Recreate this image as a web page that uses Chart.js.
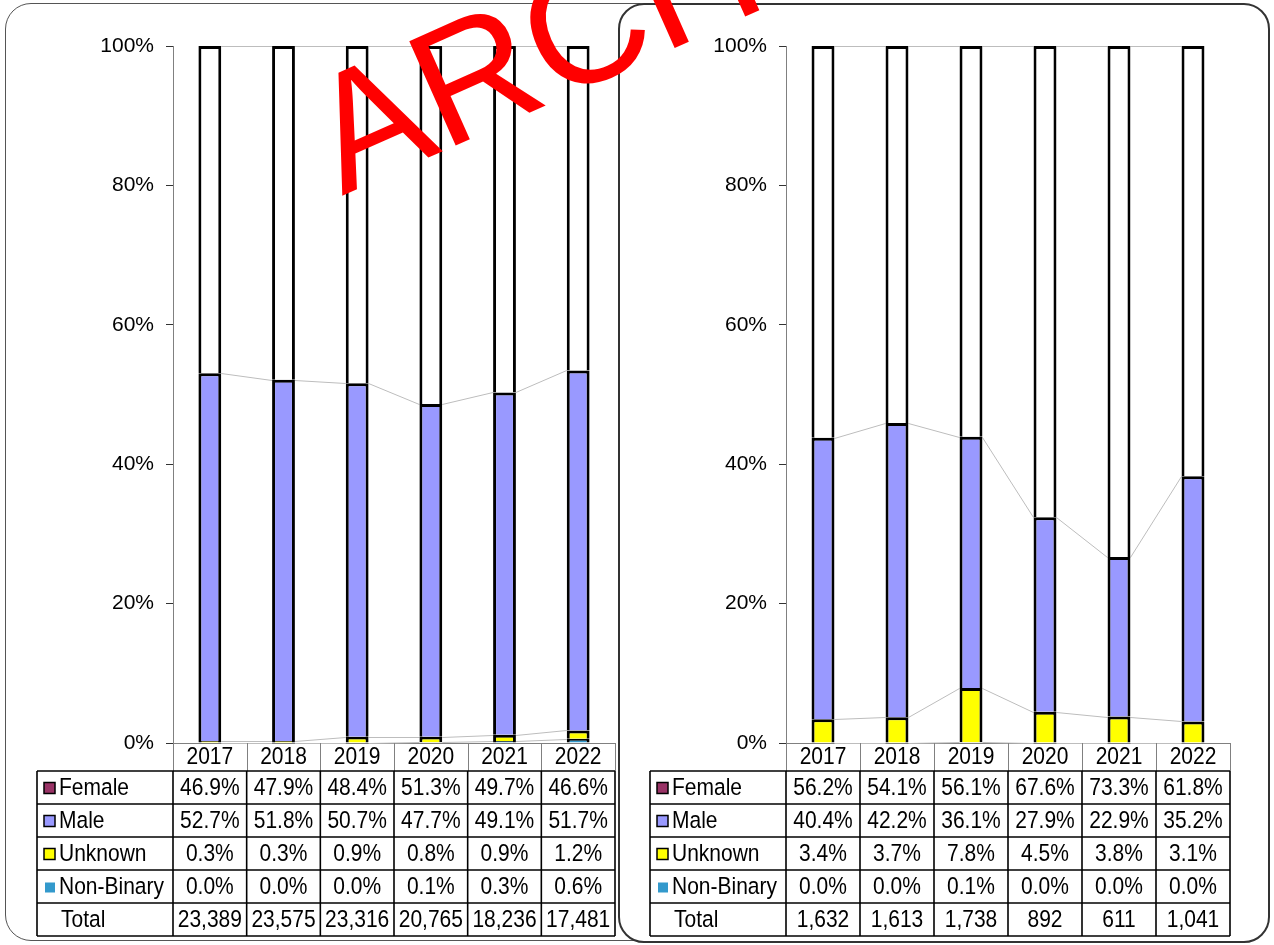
<!DOCTYPE html>
<html>
<head>
<meta charset="utf-8">
<script src="https://cdn.jsdelivr.net/npm/chart.js@4.4.1/dist/chart.umd.min.js"></script>
<style>
html, body { margin: 0; padding: 0; background: #fff; overflow: hidden; }
body { width: 1274px; height: 945px; position: relative; font-family: 'Liberation Sans', Arial, sans-serif; }
.panel { position: absolute; box-sizing: border-box; background: #fff; border-radius: 26px; }
#panelL { left: 5px; top: 3px; width: 660px; height: 938px; border: 1.5px solid #555; z-index: 1; }
#panelR { left: 618px; top: 3px; width: 652px; height: 940px; border: 2px solid #333; z-index: 3; }
#chartL { position: absolute; left: 0; top: 0; z-index: 2; }
#chartR { position: absolute; left: 620px; top: 0; z-index: 4; }
#stamp { position: absolute; left: 0; top: 0; z-index: 5; pointer-events: none; }
</style>
</head>
<body>
<div class="panel" id="panelL"></div>
<div class="panel" id="panelR"></div>
<canvas id="chartL" width="618" height="945"></canvas>
<canvas id="chartR" width="654" height="945"></canvas>
<svg id="stamp" width="1274" height="945">
  <text x="342" y="196" transform="rotate(-24 342 196)" font-family="Liberation Sans" font-size="166" fill="#FF0000">ARCHIVE</text>
</svg>
<script>
// years along the x axis
var years = ['2017', '2018', '2019', '2020', '2021', '2022'];

// left chart (percent shares)
var leftFemale = [46.9, 47.9, 48.4, 51.3, 49.7, 46.6];
var leftMale = [52.7, 51.8, 50.7, 47.7, 49.1, 51.7];
var leftUnknown = [0.3, 0.3, 0.9, 0.8, 0.9, 1.2];
var leftNonBinary = [0.0, 0.0, 0.0, 0.1, 0.3, 0.6];
var leftTotal = [23389, 23575, 23316, 20765, 18236, 17481];

// right chart (percent shares)
var rightFemale = [56.2, 54.1, 56.1, 67.6, 73.3, 61.8];
var rightMale = [40.4, 42.2, 36.1, 27.9, 22.9, 35.2];
var rightUnknown = [3.4, 3.7, 7.8, 4.5, 3.8, 3.1];
var rightNonBinary = [0.0, 0.0, 0.1, 0.0, 0.0, 0.0];
var rightTotal = [1632, 1613, 1738, 892, 611, 1041];

var FONT = "'Liberation Sans', Arial, sans-serif";
Chart.defaults.font.family = FONT;
Chart.defaults.color = '#000';

// excel style series lines between the stacked segments
var seriesLines = {
    id: 'seriesLines',
    beforeDatasetsDraw: function (chart) {
        var ctx = chart.ctx;
        ctx.save();
        ctx.strokeStyle = '#BDBDBD';
        ctx.lineWidth = 1;
        chart.data.datasets.forEach(function (ds, d) {
            var bars = chart.getDatasetMeta(d).data;
            for (var i = 0; i < bars.length - 1; i++) {
                var a = bars[i], b = bars[i + 1];
                ctx.beginPath();
                ctx.moveTo(a.x + a.width / 2, Math.round(a.y) + 0.5);
                ctx.lineTo(b.x - b.width / 2, Math.round(b.y) + 0.5);
                ctx.stroke();
            }
        });
        ctx.restore();
    }
};

// text in the table is a bit taller than wide in the original
function cellText(ctx, txt, x, y) {
    ctx.save();
    ctx.translate(x, y);
    ctx.scale(1, 1.1);
    ctx.fillText(txt, 0, 0);
    ctx.restore();
}

// data table under the plot, columns follow the category scale
var dataTable = {
    id: 'dataTable',
    afterDraw: function (chart, args, opts) {
        var ctx = chart.ctx;
        var ca = chart.chartArea;
        var xs = chart.scales.x;
        var n = chart.data.labels.length;
        var cw = (ca.right - ca.left) / n;
        var top = ca.bottom, headH = 28, rowH = 33;
        var left = opts.left;
        var bodyTop = top + headH;
        var bottom = bodyTop + rowH * opts.rows.length;

        ctx.save();
        ctx.font = '21px ' + FONT;
        ctx.textBaseline = 'middle';
        ctx.fillStyle = '#000';

        // header row
        ctx.strokeStyle = '#808080';
        ctx.lineWidth = 1;
        for (var i = 0; i <= n; i++) {
            var gx = Math.round(ca.left + cw * i) + 0.5;
            ctx.beginPath();
            ctx.moveTo(gx, top);
            ctx.lineTo(gx, bodyTop);
            ctx.stroke();
        }
        ctx.textAlign = 'center';
        chart.data.labels.forEach(function (lab, i) {
            cellText(ctx, lab, xs.getPixelForValue(i), top + headH / 2 + 1);
        });

        // body grid
        ctx.strokeStyle = '#000';
        ctx.lineWidth = 1.6;
        for (var r = 0; r <= opts.rows.length; r++) {
            var gy = bodyTop + rowH * r;
            ctx.beginPath();
            ctx.moveTo(left, gy);
            ctx.lineTo(ca.right, gy);
            ctx.stroke();
        }
        var vx = [left, ca.left];
        for (var j = 1; j <= n; j++) vx.push(ca.left + cw * j);
        vx.forEach(function (x) {
            ctx.beginPath();
            ctx.moveTo(x, bodyTop);
            ctx.lineTo(x, bottom);
            ctx.stroke();
        });

        // rows
        opts.rows.forEach(function (row, r) {
            var cy = bodyTop + rowH * r + rowH / 2 + 1;
            if (row.color) {
                ctx.fillStyle = row.color;
                if (row.edge) {
                    ctx.fillRect(left + 7, cy - 6, 11, 11);
                    ctx.lineWidth = 1.5;
                    ctx.strokeRect(left + 7, cy - 6, 11, 11);
                } else {
                    ctx.fillRect(left + 8, cy - 5, 10, 10);
                }
            }
            ctx.fillStyle = '#000';
            ctx.textAlign = 'left';
            cellText(ctx, row.label, left + (row.color ? 22 : 24), cy);
            ctx.textAlign = 'center';
            row.cells.forEach(function (c, i) {
                cellText(ctx, c, xs.getPixelForValue(i), cy);
            });
        });
        ctx.restore();
    }
};

function pct(arr) {
    return arr.map(function (v) { return v.toFixed(1) + '%'; });
}

function buildChart(id, female, male, unknown, nonBinary, totals, pad, tableLeft) {
    // 100% stacked: each column scaled to its own sum
    var sums = years.map(function (y, i) { return female[i] + male[i] + unknown[i] + nonBinary[i]; });
    var share = function (arr) { return arr.map(function (v, i) { return v / sums[i] * 100; }); };
    var datasets = [
        { label: 'Non-Binary', data: share(nonBinary), backgroundColor: '#3399CC' },
        { label: 'Unknown', data: share(unknown), backgroundColor: '#FFFF00' },
        { label: 'Male', data: share(male), backgroundColor: '#9999FF' },
        { label: 'Female', data: share(female), backgroundColor: '#FFFFFF' }
    ];
    datasets.forEach(function (ds) {
        ds.borderColor = '#000';
        ds.borderWidth = 3;
        ds.borderSkipped = 'start';
        ds.barPercentage = 0.31;
        ds.categoryPercentage = 1;
    });

    return new Chart(document.getElementById(id), {
        type: 'bar',
        data: { labels: years, datasets: datasets },
        options: {
            responsive: false,
            animation: false,
            layout: { padding: pad },
            plugins: {
                legend: { display: false },
                tooltip: { enabled: false },
                dataTable: {
                    left: tableLeft,
                    rows: [
                        { label: 'Female', color: '#993366', edge: true, cells: pct(female) },
                        { label: 'Male', color: '#9999FF', edge: true, cells: pct(male) },
                        { label: 'Unknown', color: '#FFFF00', edge: true, cells: pct(unknown) },
                        { label: 'Non-Binary', color: '#3399CC', edge: false, cells: pct(nonBinary) },
                        { label: 'Total', cells: totals.map(function (t) { return t.toLocaleString('en-US'); }) }
                    ]
                }
            },
            scales: {
                x: {
                    stacked: true,
                    grid: { display: false },
                    ticks: { display: false },
                    border: { display: true, color: '#808080', width: 1 },
                    afterFit: function (s) { s.height = 0; }
                },
                y: {
                    stacked: true,
                    min: 0,
                    max: 100,
                    ticks: {
                        stepSize: 20,
                        padding: 12,
                        color: '#000',
                        font: { size: 21 },
                        callback: function (v) { return v + '%'; }
                    },
                    grid: { drawOnChartArea: false, drawTicks: true, tickLength: 7, color: '#333', tickColor: '#333' },
                    border: { display: true, color: '#808080', width: 1 },
                    afterFit: function (s) { s.width = 90; }
                }
            }
        },
        plugins: [seriesLines, dataTable]
    });
}

buildChart('chartL', leftFemale, leftMale, leftUnknown, leftNonBinary, leftTotal,
    { left: 83, right: 3, top: 46, bottom: 202 }, 37);
buildChart('chartR', rightFemale, rightMale, rightUnknown, rightNonBinary, rightTotal,
    { left: 76, right: 44, top: 46, bottom: 202 }, 30);
</script>
</body>
</html>
